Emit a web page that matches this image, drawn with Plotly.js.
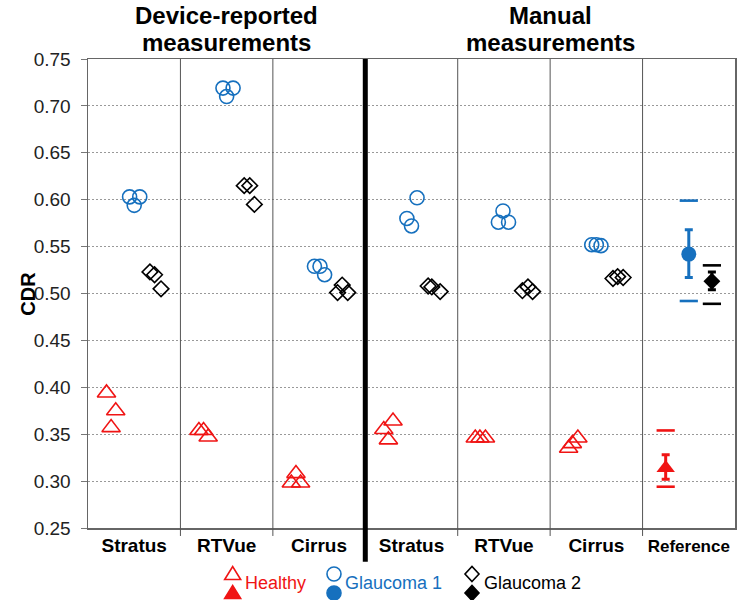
<!DOCTYPE html>
<html><head><meta charset="utf-8">
<script src="https://cdn.plot.ly/plotly-3.0.1.min.js"></script>
<style>html,body{margin:0;padding:0;background:#fff;}#chart{width:737px;height:600px;}</style>
</head><body><div id="chart"></div>
<script>
// ---- data ----
const columnLabels = ['Stratus', 'RTVue', 'Cirrus', 'Stratus', 'RTVue', 'Cirrus', 'Reference'];
const columnCenters = [0.5, 1.5, 2.5, 3.5, 4.5, 5.5, 6.5];
const yTicks = [0.25, 0.30, 0.35, 0.40, 0.45, 0.50, 0.55, 0.60, 0.65, 0.70, 0.75];

// Healthy (3 eyes per device/method)
const healthyX = [0.20, 0.30, 0.25, 1.20, 1.25, 1.30, 2.25, 2.20, 2.30, 3.20, 3.30, 3.25, 4.19, 4.24, 4.30, 5.20, 5.24, 5.30];
const healthyY = [0.394, 0.375, 0.357, 0.354, 0.354, 0.347, 0.308, 0.298, 0.298, 0.355, 0.364, 0.344, 0.346, 0.346, 0.346, 0.335, 0.340, 0.346];
// Glaucoma 1
const glaucoma1X = [0.45, 0.56, 0.50, 1.46, 1.57, 1.50, 2.45, 2.51, 2.56, 3.56, 3.45, 3.50, 4.49, 4.44, 4.55, 5.45, 5.50, 5.55];
const glaucoma1Y = [0.603, 0.603, 0.594, 0.719, 0.719, 0.710, 0.529, 0.529, 0.520, 0.602, 0.580, 0.572, 0.588, 0.576, 0.576, 0.552, 0.552, 0.551];
// Glaucoma 2
const glaucoma2X = [0.67, 0.72, 0.79, 1.69, 1.75, 1.80, 2.70, 2.75, 2.81, 3.68, 3.72, 3.81, 4.70, 4.76, 4.81, 5.68, 5.73, 5.79];
const glaucoma2Y = [0.523, 0.520, 0.505, 0.615, 0.615, 0.595, 0.501, 0.509, 0.501, 0.508, 0.507, 0.502, 0.503, 0.507, 0.502, 0.516, 0.518, 0.517];

// Reference column: [Healthy, Glaucoma 1, Glaucoma 2]
const refX = [6.25, 6.50, 6.75];
const refMean = [0.314, 0.542, 0.513];
const refErrPlus = [0.014, 0.026, 0.010];
const refErrMinus = [0.012, 0.025, 0.009];
const refHigh = [0.354, 0.599, 0.530];
const refLow = [0.294, 0.492, 0.489];

const separators = [1, 2, 4, 5, 6];
const thickSeparator = 3;

// ---- style ----
const RED = '#f01414', BLUE = '#1670be', BLACK = '#000000';
const colors = [RED, BLUE, BLACK];
const fontFam = '"Liberation Sans", Arial, sans-serif';

const traces = [
  {x: healthyX, y: healthyY, mode: 'markers', type: 'scatter', hoverinfo: 'y',
   marker: {symbol: 'triangle-up-open', size: 16, color: RED, line: {width: 1.6, color: RED}}},
  {x: glaucoma1X, y: glaucoma1Y, mode: 'markers', type: 'scatter', hoverinfo: 'y',
   marker: {symbol: 'circle-open', size: 14, color: BLUE, line: {width: 1.6, color: BLUE}}},
  {x: glaucoma2X, y: glaucoma2Y, mode: 'markers', type: 'scatter', hoverinfo: 'y',
   marker: {symbol: 'diamond-open', size: 12, color: BLACK, line: {width: 1.6, color: BLACK}}}
];
const refSymbols = ['triangle-up', 'circle', 'diamond'];
const refSizes = [16, 15, 13];
for (let i = 0; i < 3; i++) {
  traces.push({x: [refX[i], refX[i]], y: [refHigh[i], refLow[i]], mode: 'markers', type: 'scatter', hoverinfo: 'y',
    marker: {symbol: 'line-ew', size: 13, color: colors[i], line: {width: 2.6, color: colors[i]}}});
  traces.push({x: [refX[i]], y: [refMean[i]], mode: 'markers', type: 'scatter', hoverinfo: 'y',
    marker: {symbol: refSymbols[i], size: refSizes[i], color: colors[i], line: {width: 0}},
    error_y: {type: 'data', symmetric: false, array: [refErrPlus[i]], arrayminus: [refErrMinus[i]],
      color: colors[i], thickness: 3, width: 4}});
}

const shapes = [];
separators.forEach(s => shapes.push({type: 'line', xref: 'x', yref: 'paper', x0: s, x1: s, y0: -0.017, y1: 1,
  line: {color: '#555', width: 1}}));
shapes.push({type: 'line', xref: 'x', yref: 'paper', x0: thickSeparator, x1: thickSeparator, y0: -0.072, y1: 1,
  line: {color: '#000', width: 5}});

// legend keys (pixel-sized shapes anchored in paper coords)
const legRowTop = -0.0981, legRowBot = -0.1386;
const legKeys = [
  {x: 0.2236, path: 'M-8,-5.5 L8,-5.5 L0,7.5 Z', color: RED},
  {x: 0.3802, circle: true, color: BLUE},
  {x: 0.5935, path: 'M0,-7.5 L7,0 L0,7.5 L-7,0 Z', color: BLACK}
];
legKeys.forEach(k => {
  [[legRowTop, false], [legRowBot, true]].forEach(([yy, filled]) => {
    const base = {xref: 'paper', yref: 'paper', xsizemode: 'pixel', ysizemode: 'pixel', xanchor: k.x, yanchor: yy,
      line: {color: k.color, width: 1.6}, fillcolor: filled ? k.color : 'rgba(0,0,0,0)'};
    if (k.circle) shapes.push(Object.assign({type: 'circle', x0: -7, x1: 7, y0: -7, y1: 7}, base));
    else shapes.push(Object.assign({type: 'path', path: k.path}, base));
  });
});

const annotations = [
  {text: '<b>Device-reported</b>', x: 1.5, xref: 'x', y: 1.093, yref: 'paper', showarrow: false, font: {size: 24, color: '#000', family: fontFam}, xanchor: 'center', yanchor: 'middle'},
  {text: '<b>measurements</b>', x: 1.5, xref: 'x', y: 1.035, yref: 'paper', showarrow: false, font: {size: 24, color: '#000', family: fontFam}, xanchor: 'center', yanchor: 'middle'},
  {text: '<b>Manual</b>', x: 5.0, xref: 'x', y: 1.093, yref: 'paper', showarrow: false, font: {size: 24, color: '#000', family: fontFam}, xanchor: 'center', yanchor: 'middle'},
  {text: '<b>measurements</b>', x: 5.0, xref: 'x', y: 1.035, yref: 'paper', showarrow: false, font: {size: 24, color: '#000', family: fontFam}, xanchor: 'center', yanchor: 'middle'},
  {text: '<b>CDR</b>', xref: 'paper', x: -0.094, yref: 'paper', y: 0.5, xanchor: 'center', yanchor: 'middle', textangle: -90, showarrow: false, font: {size: 20, color: '#000', family: fontFam}},
  {text: 'Healthy', xref: 'paper', x: 0.2396, yref: 'paper', y: -0.117, xanchor: 'left', yanchor: 'middle', showarrow: false, font: {size: 18, color: RED, family: fontFam}},
  {text: 'Glaucoma 1', xref: 'paper', x: 0.3941, yref: 'paper', y: -0.117, xanchor: 'left', yanchor: 'middle', showarrow: false, font: {size: 18, color: BLUE, family: fontFam}},
  {text: 'Glaucoma 2', xref: 'paper', x: 0.609, yref: 'paper', y: -0.117, xanchor: 'left', yanchor: 'middle', showarrow: false, font: {size: 18, color: BLACK, family: fontFam}}
];

const tickText = columnLabels.map(l => l === 'Reference' ? '<b><span style="font-size:17px">' + l + '</span></b>' : '<b>' + l + '</b>');

const layout = {
  width: 737, height: 600,
  margin: {l: 88, r: 2, t: 59, b: 72},
  paper_bgcolor: '#fff', plot_bgcolor: '#fff',
  showlegend: false,
  font: {family: fontFam, color: '#000'},
  xaxis: {range: [0, 7], tickmode: 'array', tickvals: columnCenters, ticktext: tickText, ticks: '',
    tickfont: {size: 19, color: '#000', family: fontFam}, showgrid: false, zeroline: false,
    showline: true, mirror: true, linecolor: '#666', linewidth: 1.5, fixedrange: true},
  yaxis: {range: [0.25, 0.75], tickmode: 'array', tickvals: yTicks, tickformat: '.2f', ticks: 'outside', ticklen: 6,
    tickcolor: '#777', tickfont: {size: 19, color: '#222', family: fontFam}, ticklabelstandoff: 6,
    showgrid: true, gridcolor: '#999', griddash: '2px,2px', gridwidth: 1, zeroline: false,
    showline: true, mirror: true, linecolor: '#666', linewidth: 1.5, fixedrange: true},
  shapes: shapes,
  annotations: annotations
};

Plotly.newPlot('chart', traces, layout, {staticPlot: true, displayModeBar: false});
</script>
</body></html>
